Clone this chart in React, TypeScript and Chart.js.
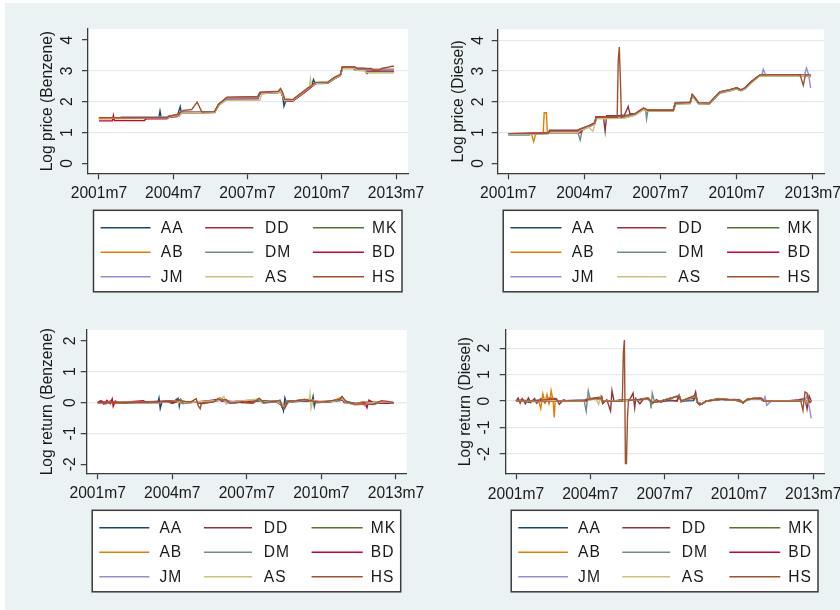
import React, { useEffect, useRef } from 'react';
import { Chart, registerables } from 'chart.js';

Chart.register(...registerables);

type Pt = [number, number];

// ---------- labels, colours, ticks ----------
const SERIES_NAMES = ['AA', 'DD', 'MK', 'AB', 'DM', 'BD', 'JM', 'AS', 'HS'];
const SERIES_COLORS = ['#1A476F', '#90353B', '#55752F', '#E37E00', '#6E8E84', '#C10534', '#938DD2', '#CAC27E', '#A0522D'];
const X_TICK_MONTHS = [0, 36, 72, 108, 144]; // months since 2001m7
const X_TICK_LABELS = ['2001m7', '2004m7', '2007m7', '2010m7', '2013m7'];
const PRICE_Y_TICKS = [0, 1, 2, 3, 4];
const RETURN_Y_TICKS = [-2, -1, 0, 1, 2];

// ---------- Log price (Benzene): [month since 2001m7, value] ----------
const BENZ_PRICE_AA: Pt[] = [[0,1.47],[29,1.47],[29.6,1.7],[30.2,1.48],[33,1.5],[38,1.55],[39.4,1.84],[40,1.62],[41,1.66],[56,1.67],[58,1.9],[62,2.1],[70,2.12],[77,2.14],[78,2.28],[87,2.32],[88,2.38],[89,2.2],[89.7,1.86],[90.5,2.02],[94,2.05],[100,2.35],[103,2.5],[104,2.72],[104.8,2.6],[111,2.62],[114,2.75],[117,2.86],[118,3.1],[123,3.1],[124,3.04],[129,3.04],[130,2.98],[143,2.98]];
const BENZ_PRICE_DD: Pt[] = [[0,1.48],[22,1.48],[23,1.47],[33,1.47],[34,1.52],[38,1.56],[40,1.65],[56,1.66],[58,1.92],[62,2.13],[77,2.15],[78,2.3],[87,2.33],[88,2.42],[89,2.28],[90,2.08],[94,2.07],[100,2.38],[103,2.52],[105,2.62],[111,2.63],[114,2.78],[117,2.88],[118,3.14],[124,3.13],[125,3.05],[143,3.05]];
const BENZ_PRICE_MK: Pt[] = [[0,1.46],[33,1.47],[34,1.52],[38,1.55],[40,1.65],[56,1.66],[58,1.9],[62,2.1],[77,2.12],[78,2.28],[87,2.31],[88,2.38],[89,2.22],[90,2.04],[94,2.04],[100,2.34],[103,2.5],[105,2.6],[111,2.61],[114,2.74],[117,2.85],[118,3.1],[124,3.1],[125,3.02],[129,3.02],[129.5,2.95],[143,2.95]];
const BENZ_PRICE_AB: Pt[] = [[0,1.45],[33,1.46],[34,1.52],[38,1.6],[39,1.62],[40,1.66],[56,1.67],[58,1.9],[62,2.1],[66,2.14],[77,2.13],[78,2.28],[87,2.32],[88,2.4],[89,2.25],[90,2.05],[94,2.05],[100,2.36],[103,2.52],[105,2.6],[111,2.62],[114,2.76],[117,2.87],[118,3.12],[124,3.12],[125,3.05],[143,3.05]];
const BENZ_PRICE_DM: Pt[] = [[0,1.46],[33,1.47],[34,1.5],[38,1.54],[40,1.65],[56,1.66],[58,1.88],[62,2.1],[77,2.11],[78,2.27],[87,2.3],[88,2.36],[89,2.2],[90,2.03],[94,2.04],[100,2.33],[103,2.48],[105,2.58],[111,2.6],[114,2.73],[117,2.84],[118,3.08],[124,3.08],[125,3.03],[143,3.03]];
const BENZ_PRICE_BD: Pt[] = [[0,1.38],[6.5,1.38],[7,1.55],[7.5,1.39],[22,1.39],[23,1.45],[33,1.45],[34,1.5],[38,1.52],[40,1.64],[56,1.65],[58,1.88],[62,2.09],[77,2.1],[78,2.26],[87,2.3],[88,2.36],[89,2.18],[90,2.02],[94,2.02],[100,2.32],[103,2.48],[105,2.6],[111,2.62],[114,2.76],[117,2.86],[118,3.1],[129,3.08],[130,2.92],[131,3.0],[143,3.0]];
const BENZ_PRICE_JM: Pt[] = [[0,1.47],[10,1.48],[11,1.51],[33,1.51],[34,1.55],[38,1.57],[40,1.66],[56,1.67],[58,1.9],[62,2.11],[77,2.13],[78,2.29],[87,2.33],[88,2.39],[89,2.23],[90,2.04],[94,2.05],[100,2.36],[101,2.45],[103,2.5],[105,2.6],[111,2.62],[114,2.76],[117,2.87],[118,3.1],[123,3.1],[124,3.08],[128,3.08],[129,3.03],[143,3.03]];
const BENZ_PRICE_AS: Pt[] = [[0,1.46],[33,1.47],[34,1.5],[38,1.55],[39,1.52],[40,1.63],[56,1.65],[58,1.88],[62,2.05],[78,2.05],[79,2.27],[87,2.3],[88,2.36],[89,2.2],[90,2.04],[94,2.05],[100,2.36],[102,2.45],[102.5,2.75],[103,2.5],[105,2.6],[111,2.62],[114,2.75],[117,2.86],[118,3.08],[124,3.08],[125,3.02],[129,3.0],[129.5,2.95],[143,2.95]];
const BENZ_PRICE_HS: Pt[] = [[0,1.48],[33,1.48],[34,1.53],[38,1.58],[40,1.68],[41,1.72],[45,1.75],[47.6,1.99],[49.5,1.72],[50,1.67],[56,1.68],[58,1.92],[62,2.15],[77,2.17],[78,2.3],[87,2.34],[88,2.43],[89,2.3],[90,2.08],[94,2.07],[100,2.38],[103,2.52],[105,2.63],[111,2.64],[114,2.78],[117,2.88],[118,3.13],[124,3.13],[125,3.08],[132,3.08],[133,3.02],[136,3.02],[137,3.08],[140,3.12],[142,3.15],[143,3.15]];

// ---------- Log price (Diesel) ----------
const DIES_PRICE_AA: Pt[] = [[0,0.93],[10,0.93],[11,0.96],[19,0.98],[20,1.05],[33,1.05],[34,1.1],[38,1.2],[41,1.32],[41.5,1.5],[55,1.5],[60,1.6],[64,1.78],[66,1.72],[78,1.72],[79,1.95],[86,1.97],[87,2.2],[88,2.14],[90,1.96],[95,1.95],[100,2.3],[105,2.38],[108,2.44],[110,2.37],[112,2.45],[115,2.65],[119,2.86],[143,2.86]];
const DIES_PRICE_DD: Pt[] = [[0,0.97],[10,0.97],[19,0.99],[19.5,1.08],[33,1.08],[34,1.12],[38,1.22],[41,1.33],[41.5,1.52],[45,1.52],[45.8,1.05],[46.5,1.55],[52,1.55],[55,1.58],[56.7,1.85],[57.5,1.62],[60,1.62],[64,1.8],[66,1.72],[78,1.73],[79,1.96],[86,1.98],[87,2.24],[88,2.16],[90,1.97],[95,1.95],[100,2.32],[105,2.4],[108,2.46],[110,2.39],[112,2.46],[115,2.66],[119,2.88],[141,2.88],[142,2.82],[143,2.84]];
const DIES_PRICE_MK: Pt[] = [[0,0.96],[19,0.98],[20,1.04],[33,1.04],[34,1.1],[38,1.2],[41,1.3],[41.5,1.49],[55,1.5],[60,1.58],[64,1.77],[66,1.71],[78,1.71],[79,1.94],[86,1.96],[87,2.2],[88,2.14],[90,1.95],[95,1.94],[100,2.3],[105,2.37],[108,2.44],[110,2.37],[112,2.44],[115,2.64],[119,2.86],[143,2.86]];
const DIES_PRICE_AB: Pt[] = [[0,0.96],[11,0.96],[12,0.71],[13,0.96],[16.5,0.98],[17,1.65],[18,1.65],[18.5,1.0],[20,1.02],[33,1.02],[34,1.1],[38,1.2],[41,1.3],[41.5,1.5],[55,1.5],[60,1.6],[64,1.78],[66,1.72],[78,1.72],[79,1.95],[86,1.97],[87,2.22],[88,2.15],[90,1.96],[95,1.95],[100,2.3],[105,2.38],[108,2.45],[110,2.38],[112,2.45],[115,2.65],[119,2.87],[143,2.87]];
const DIES_PRICE_DM: Pt[] = [[0,0.95],[19,0.97],[20,1.0],[33,1.0],[34,0.76],[35,1.08],[38,1.18],[41,1.3],[41.5,1.48],[55,1.5],[60,1.58],[64,1.76],[65,1.72],[65.4,1.45],[66,1.72],[78,1.71],[79,1.93],[86,1.95],[87,2.18],[88,2.12],[90,1.94],[95,1.93],[100,2.28],[105,2.36],[108,2.42],[110,2.36],[112,2.43],[115,2.63],[119,2.85],[143,2.85]];
const DIES_PRICE_BD: Pt[] = [[0,0.97],[19,0.99],[20,1.0],[34,1.0],[35,1.1],[38,1.2],[41,1.31],[41.5,1.5],[55,1.5],[60,1.6],[64,1.78],[66,1.72],[78,1.72],[79,1.95],[86,1.97],[87,2.21],[88,2.15],[90,1.96],[95,1.95],[100,2.31],[105,2.39],[108,2.45],[110,2.38],[112,2.45],[115,2.66],[119,2.87],[142,2.87],[143,2.82]];
const DIES_PRICE_JM: Pt[] = [[0,0.95],[19,0.97],[20,1.03],[33,1.03],[34,1.1],[38,1.2],[41,1.3],[41.5,1.48],[55,1.5],[60,1.6],[64,1.78],[66,1.72],[78,1.72],[79,1.98],[86,2.0],[87,2.22],[88,2.15],[90,1.97],[95,1.96],[100,2.33],[105,2.4],[108,2.44],[110,2.38],[112,2.45],[115,2.65],[119,2.87],[120,2.9],[120.6,3.06],[121.5,2.9],[123,2.86],[140,2.86],[141,3.1],[142,2.9],[143,2.45]];
const DIES_PRICE_AS: Pt[] = [[0,0.95],[19,0.97],[20,1.0],[33,1.0],[34,1.08],[38,1.18],[40,1.05],[41,1.28],[41.5,1.45],[55,1.47],[60,1.56],[64,1.75],[66,1.7],[78,1.7],[79,1.93],[86,1.95],[87,2.2],[88,2.13],[90,1.95],[95,1.94],[100,2.3],[105,2.37],[108,2.43],[110,2.37],[112,2.44],[115,2.63],[119,2.84],[143,2.84]];
const DIES_PRICE_HS: Pt[] = [[0,0.97],[19,0.99],[20,1.06],[33,1.06],[34,1.12],[38,1.22],[41,1.32],[41.5,1.5],[51.5,1.5],[52,3.35],[52.5,3.78],[53,2.75],[53.5,1.5],[55,1.55],[60,1.62],[64,1.8],[66,1.73],[78,1.73],[79,1.96],[86,1.98],[87,2.24],[88,2.16],[90,1.97],[95,1.96],[100,2.32],[105,2.4],[108,2.46],[110,2.39],[112,2.46],[115,2.66],[119,2.88],[138,2.88],[139.5,2.54],[140.5,2.88],[143,2.88]];

// ---------- Log return (Benzene) ----------
const BENZ_RET_AA: Pt[] = [[0,0],[8,0.02],[12,-0.02],[20,0.01],[29,0],[29.6,0.15],[30.2,-0.19],[31,0.02],[33,0.04],[36,0],[38.8,0.14],[39.4,-0.12],[40,0.1],[41,0],[50,0.02],[58,0.08],[62,0.04],[70,0],[78,0.06],[88,0.04],[89.2,-0.15],[89.7,-0.27],[90.4,0.15],[91,0.02],[100,0.05],[103.5,0.04],[104,0.2],[104.6,-0.12],[105,0],[111,0.02],[118,0.08],[124,-0.03],[130,-0.05],[136,0.02],[143,0]];
const BENZ_RET_DD: Pt[] = [[0,0],[2,0.05],[4,-0.04],[6,0.05],[10,0],[22,0.02],[33,0.05],[36,-0.03],[40,0.08],[42,0],[46,0.04],[50,-0.04],[55,0.02],[58,0.1],[60,0.05],[62,0.08],[64,-0.02],[70,0.02],[74,-0.02],[78,0.12],[80,0],[86,0.05],[88,0.07],[89,-0.1],[90,-0.15],[92,0],[96,0.05],[100,0.06],[103,0.05],[106,0.02],[110,0.03],[114,0.06],[117,0.08],[118,0.15],[120,0],[124,-0.05],[128,0.02],[132,-0.03],[136,0.02],[143,0]];
const BENZ_RET_MK: Pt[] = [[0,0],[14,0.01],[30,0],[34,0.04],[40,0.07],[45,0],[57,0.05],[60,0.12],[62,0],[68,0.03],[75,0],[78,0.1],[80,0],[88,0.05],[89,-0.12],[90,-0.1],[92,0.03],[98,0.04],[102,0.08],[106,0.04],[112,0.02],[116,0.07],[118,0.1],[120,0],[125,-0.06],[129,-0.05],[133,0.02],[138,-0.02],[143,0]];
const BENZ_RET_AB: Pt[] = [[0,0],[5,0.02],[9,-0.02],[18,0.01],[30,0],[34,0.05],[38,0.05],[39,0.02],[40,0.03],[43,-0.02],[48,0.03],[57,0.06],[59,0.16],[61,0.05],[64,-0.03],[67,0.05],[72,-0.02],[78,0.12],[80,0.03],[85,0.02],[88,0.06],[89.5,-0.12],[90.5,-0.18],[92,0.05],[96,0.06],[100,0.08],[104,0.05],[108,0.04],[114,0.06],[118,0.18],[119,0.05],[124,-0.08],[126,0],[132,0.03],[140,-0.02],[143,0]];
const BENZ_RET_DM: Pt[] = [[0,0],[12,0.01],[30,0.01],[34,0.03],[39,0.06],[41,-0.04],[45,0.02],[57,0.05],[61,0.1],[63,-0.02],[70,0.02],[78,0.1],[80,-0.02],[86,0.03],[89,-0.1],[90,-0.2],[91,0.06],[95,0.04],[99,0.08],[103,0.06],[107,0.03],[113,0.05],[117,0.06],[118,0.14],[121,0],[124,-0.04],[130,-0.04],[134,0.01],[143,0]];
const BENZ_RET_BD: Pt[] = [[0,0],[1.5,0.06],[3,-0.05],[4.5,0.07],[6,-0.04],[7,0.12],[7.5,-0.12],[8.5,0.05],[10,0],[22,0.06],[24,0],[33,0.04],[35,0.05],[38,0.02],[40,0.1],[42,0],[49,0.02],[58,0.1],[60,0.06],[62,0.05],[70,0],[78,0.1],[80,0],[88,0.05],[89,-0.15],[90,-0.1],[92,0.03],[100,0.1],[102,0.05],[104,0.08],[106,0],[110,0.02],[114,0.07],[118,0.12],[119,0],[126,-0.03],[129,-0.02],[130,-0.17],[131,0.08],[133,0],[140,-0.02],[143,0]];
const BENZ_RET_JM: Pt[] = [[0,0],[10,0.01],[11,0.03],[12,0],[30,0],[34,0.03],[40,0.07],[42,0],[57,0.05],[60,0.09],[62,0.02],[78,0.1],[80,0],[88,0.04],[89.5,-0.1],[90.5,-0.15],[92,0.02],[100,0.07],[101,0.1],[103,0.05],[106,0.02],[112,0.03],[116,0.07],[118,0.12],[120,0],[124,-0.03],[128,-0.05],[129,-0.1],[130,0.02],[134,-0.06],[136,0.02],[143,0]];
const BENZ_RET_AS: Pt[] = [[0,0],[15,0.01],[30,0],[34,0.03],[38,0.05],[39,-0.03],[40,0.1],[42,0],[57,0.06],[59,0.1],[61,0.2],[62,-0.05],[64,0],[78,0.12],[79,0.02],[88,0.05],[89,-0.1],[90,-0.14],[92,0.02],[98,0.08],[101,0.1],[102,0.06],[102.5,0.29],[103,-0.2],[104,0.08],[106,0.02],[114,0.05],[118,0.13],[120,0],[124,-0.06],[129,-0.06],[134,0.02],[140,0.04],[143,0]];
const BENZ_RET_HS: Pt[] = [[0,0],[6,0.01],[15,0],[30,0.02],[34,0.04],[38,0.05],[40,0.08],[41,0.04],[45,0.02],[47,0.1],[47.6,0.12],[48.5,-0.1],[49.5,-0.2],[50,-0.05],[51,0],[56,0.02],[58,0.12],[60,0.08],[62,0.1],[64,-0.02],[70,0.03],[75,-0.02],[78,0.14],[80,0],[87,0.05],[88,0.08],[89,-0.13],[90,-0.18],[92,0.04],[96,0.06],[100,0.1],[103,0.06],[106,0.02],[110,0.03],[114,0.07],[117,0.1],[118,0.2],[120,0.02],[124,-0.05],[130,-0.05],[133,-0.06],[137,0.06],[140,0.04],[143,0]];

// ---------- Log return (Diesel) ----------
const DIES_RET_AA: Pt[] = [[0,0],[3,0.05],[6,-0.04],[10,0.03],[19.5,0.07],[20,0],[30,0.02],[34,0.05],[38,0.1],[41,0.12],[41.5,0.13],[42,0],[55,0.03],[60,0.06],[64,0.08],[66,-0.05],[70,0],[78,0.02],[79,0.2],[80,0],[86,0.02],[87,0.2],[88,-0.06],[90,-0.12],[92,0],[96,0.05],[100,0.08],[104,0.03],[108,0.06],[110,-0.07],[112,0.06],[115,0.08],[118,0.1],[120,0],[143,0]];
const DIES_RET_DD: Pt[] = [[0,0],[1,0.12],[2,-0.08],[3,0.1],[4.5,-0.1],[6,0.12],[7,-0.05],[9,0.1],[10,-0.08],[12,0.1],[14,-0.06],[16,0.12],[19.5,0.09],[21,-0.12],[23,0.05],[25,0],[33,0.03],[34,0.05],[37,0.1],[41,0.15],[42,-0.1],[44,0.05],[45.8,-0.37],[46.5,0.39],[47.5,0],[50,0.04],[55,0.05],[56.7,0.3],[57.5,-0.25],[58,0.1],[60,-0.1],[62,0.1],[64,0.12],[66,-0.1],[68,0.06],[70,-0.04],[74,0.05],[78,0],[79,0.22],[80,-0.03],[83,0.08],[86,0.1],[87,0.35],[88,-0.08],[89,-0.15],[90,-0.1],[92,0],[96,0.04],[100,0.08],[102,0.04],[105,0.06],[108,0.05],[110,-0.07],[112,0.06],[115,0.1],[119,0.1],[120,0],[130,0],[137,0.05],[140,0.1],[141,-0.3],[142,0.2],[143,0]];
const DIES_RET_MK: Pt[] = [[0,0],[5,0.02],[10,0],[19.5,0.06],[20,0],[33,0.02],[35,0.06],[38,0.1],[41,0.1],[41.5,0.14],[42,0],[55,0.03],[60,0.05],[64,0.1],[66,-0.06],[70,0],[79,0.2],[80,0],[87,0.2],[88,-0.06],[90,-0.1],[92,0],[98,0.1],[102,0.05],[106,0.04],[110,-0.06],[112,0.06],[115,0.08],[118,0.1],[120,0],[143,0]];
const DIES_RET_AB: Pt[] = [[0,0],[4,0.03],[8,-0.02],[11,0],[12,-0.28],[13,0.28],[14,-0.05],[15,0.25],[16,-0.1],[16.5,0.02],[17,0.4],[18,0.02],[18.5,-0.62],[19,0.02],[20,0],[34,0.05],[38,0.08],[41,0.1],[41.5,0.14],[42,0],[55,0.03],[60,0.05],[64,0.1],[66,-0.06],[70,0],[79,0.2],[80,0],[87,0.22],[88,-0.07],[90,-0.12],[92,0],[100,0.08],[104,0.04],[108,0.05],[110,-0.07],[112,0.06],[115,0.1],[119,0.1],[120,0],[143,0]];
const DIES_RET_DM: Pt[] = [[0,0],[6,0.02],[10,-0.03],[19.5,0.03],[20,0],[33,0.02],[34,-0.38],[35,0.39],[36,0.05],[38,0.1],[41,0.1],[41.5,0.12],[42,0],[55,0.03],[60,0.05],[64,0.1],[65,-0.02],[65.4,-0.28],[66,0.3],[67,0],[70,0],[79,0.2],[80,0],[87,0.18],[88,-0.05],[90,-0.1],[92,0],[100,0.06],[104,0.04],[108,0.05],[110,-0.06],[112,0.05],[115,0.08],[119,0.09],[120,0],[143,0]];
const DIES_RET_BD: Pt[] = [[0,0],[7,0.02],[19.5,0.01],[20,0],[34,0],[35,0.1],[38,0.1],[41,0.1],[41.5,0.13],[42,0],[55,0.03],[60,0.06],[64,0.1],[66,-0.06],[70,0],[79,0.2],[80,0],[87,0.2],[88,-0.06],[90,-0.11],[92,0],[100,0.08],[104,0.05],[108,0.05],[110,-0.06],[112,0.06],[115,0.1],[119,0.1],[120,0],[142,0],[143,-0.05]];
const DIES_RET_JM: Pt[] = [[0,0],[8,0.02],[19.5,0.05],[20,0],[34,0.06],[38,0.1],[41,0.1],[41.5,0.12],[42,0],[55,0.03],[60,0.06],[64,0.1],[66,-0.06],[70,0],[79,0.22],[80,0],[87,0.18],[88,-0.07],[90,-0.11],[92,0],[100,0.09],[104,0.04],[106,0.06],[108,0.04],[110,-0.06],[112,0.06],[115,0.09],[119,0.1],[120,0.03],[120.6,0.16],[121.5,-0.16],[123,-0.04],[124,0],[140,0],[141,0.22],[142,-0.2],[142.5,-0.42],[143,-0.65]];
const DIES_RET_AS: Pt[] = [[0,0],[10,0.01],[19.5,0.03],[20,0],[33,0],[34,0.08],[38,0.1],[39,0.05],[40,-0.13],[41,0.2],[41.5,0.12],[42,0],[55,0.03],[60,0.05],[64,0.1],[66,-0.06],[70,0],[79,0.2],[80,0],[87,0.2],[88,-0.07],[90,-0.1],[92,0],[100,0.08],[104,0.04],[108,0.05],[110,-0.06],[112,0.06],[115,0.08],[119,0.1],[120,0],[143,0]];
const DIES_RET_HS: Pt[] = [[0,0],[9,0.02],[19.5,0.08],[20,0],[33,0.02],[34,0.06],[38,0.1],[41,0.1],[41.5,0.18],[42,0],[51.5,0],[52,1.85],[52.5,2.31],[53,-2.36],[53.5,-2.36],[54,-0.6],[54.5,0.05],[55,0.03],[58,0.05],[60,0.06],[64,0.1],[66,-0.06],[70,0],[79,0.2],[80,0],[87,0.22],[88,-0.08],[90,-0.12],[92,0],[100,0.08],[104,0.04],[108,0.05],[110,-0.06],[112,0.06],[115,0.1],[119,0.1],[120,0],[138,0],[139,-0.35],[140,0.35],[141,0.3],[142,-0.05],[143,0]];

const BENZ_PRICE = [BENZ_PRICE_AA, BENZ_PRICE_DD, BENZ_PRICE_MK, BENZ_PRICE_AB, BENZ_PRICE_DM, BENZ_PRICE_BD, BENZ_PRICE_JM, BENZ_PRICE_AS, BENZ_PRICE_HS];
const DIES_PRICE = [DIES_PRICE_AA, DIES_PRICE_DD, DIES_PRICE_MK, DIES_PRICE_AB, DIES_PRICE_DM, DIES_PRICE_BD, DIES_PRICE_JM, DIES_PRICE_AS, DIES_PRICE_HS];
const BENZ_RET = [BENZ_RET_AA, BENZ_RET_DD, BENZ_RET_MK, BENZ_RET_AB, BENZ_RET_DM, BENZ_RET_BD, BENZ_RET_JM, BENZ_RET_AS, BENZ_RET_HS];
const DIES_RET = [DIES_RET_AA, DIES_RET_DD, DIES_RET_MK, DIES_RET_AB, DIES_RET_DM, DIES_RET_BD, DIES_RET_JM, DIES_RET_AS, DIES_RET_HS];

// ---------- styling / layout ----------
const FONT_FAMILY = '"Liberation Sans", Arial, sans-serif';
const FONT_SIZE = 15.6;
const TEXT_COLOR = '#1a1a1a';
const AXIS_COLOR = '#3a3a3a';
const GRID_COLOR = '#E2ECEE';
const BG_COLOR = '#EAF2F3';

const CANVAS_W = 460;

const PANELS = [
  { key: 'p1', left: 0, top: 0, h: 300, area: { l: 88, r: 408, t: 29, b: 173.3 }, xMin: -5.3, xMax: 149.8, yMin: -0.32, yMax: 4.36, yTicks: PRICE_Y_TICKS, grid: [1, 2, 3], title: 'Log price (Benzene)', titlePad: 38.2, yTickPad: 9.7, xTickPad: 4.7, series: BENZ_PRICE },
  { key: 'p2', left: 420, top: 0, h: 300, area: { l: 77.7, r: 404, t: 29.3, b: 173.3 }, xMin: -5, xMax: 149.3, yMin: -0.32, yMax: 4.36, yTicks: PRICE_Y_TICKS, grid: [1, 2, 3, 4], title: 'Log price (Diesel)', titlePad: 29.7, yTickPad: 9.1, xTickPad: 5.2, series: DIES_PRICE },
  { key: 'p3', left: 0, top: 300, h: 310, area: { l: 86.7, r: 406.7, t: 30, b: 173.3 }, xMin: -5.3, xMax: 149.2, yMin: -2.29, yMax: 2.35, yTicks: RETURN_Y_TICKS, grid: [-1, 0, 1], title: 'Log return (Benzene)', titlePad: 38.2, yTickPad: 3.3, xTickPad: 4.7, series: BENZ_RET },
  { key: 'p4', left: 420, top: 300, h: 310, area: { l: 85.7, r: 404, t: 30, b: 173.3 }, xMin: -5, xMax: 149.2, yMin: -2.73, yMax: 2.69, yTicks: RETURN_Y_TICKS, grid: [-2, -1, 0, 1, 2], title: 'Log return (Diesel)', titlePad: 36.2, yTickPad: 7.8, xTickPad: 5.6, series: DIES_RET },
];

const plotBg = {
  id: 'plotBg',
  beforeDraw(chart: any) {
    const { ctx, chartArea: ca } = chart;
    ctx.save();
    ctx.fillStyle = '#ffffff';
    ctx.fillRect(ca.left, ca.top, ca.right - ca.left, ca.bottom - ca.top);
    ctx.restore();
  },
};

const LEGEND_COLS = [
  [0.023, 0.185, 0.218],
  [0.362, 0.518, 0.556],
  [0.711, 0.877, 0.903],
];

const stataLegend = {
  id: 'stataLegend',
  afterDraw(chart: any) {
    const { ctx, chartArea: ca } = chart;
    const x0 = ca.left + 5.5;
    const x1 = ca.right - 6;
    const y0 = ca.bottom + 37;
    const h = 81.5;
    const w = x1 - x0;
    ctx.save();
    ctx.fillStyle = '#ffffff';
    ctx.fillRect(x0, y0, w, h);
    ctx.strokeStyle = AXIS_COLOR;
    ctx.lineWidth = 1.5;
    ctx.strokeRect(x0, y0, w, h);
    ctx.font = `${FONT_SIZE}px ${FONT_FAMILY}`;
    ctx.textBaseline = 'middle';
    ctx.textAlign = 'left';
    try { (ctx as any).letterSpacing = '1px'; } catch (e) { /* ignore */ }
    chart.data.datasets.forEach((ds: any, i: number) => {
      const r = Math.floor(i / 3);
      const c = i % 3;
      const y = y0 + 17.5 + r * 24.5;
      ctx.strokeStyle = ds.borderColor;
      ctx.lineWidth = 1.5;
      ctx.beginPath();
      ctx.moveTo(x0 + LEGEND_COLS[c][0] * w, y);
      ctx.lineTo(x0 + LEGEND_COLS[c][1] * w, y);
      ctx.stroke();
      ctx.fillStyle = TEXT_COLOR;
      ctx.fillText(ds.label, x0 + LEGEND_COLS[c][2] * w, y + 0.5);
    });
    ctx.restore();
  },
};

function Panel({ p }: { p: any }) {
  const ref = useRef<HTMLCanvasElement | null>(null);
  useEffect(() => {
    const canvas = ref.current;
    if (!canvas) return;
    const font = { family: FONT_FAMILY, size: FONT_SIZE };
    const chart = new Chart(canvas, {
      type: 'line',
      data: {
        datasets: p.series.map((pts: Pt[], i: number) => ({
          label: SERIES_NAMES[i],
          data: pts.map(([x, y]) => ({ x, y })),
          borderColor: SERIES_COLORS[i],
          backgroundColor: SERIES_COLORS[i],
          borderWidth: 1.4,
          pointRadius: 0,
          tension: 0,
          fill: false,
          order: 9 - i,
        })),
      },
      options: {
        responsive: false,
        animation: false,
        events: [],
        layout: { padding: { left: 0, top: p.area.t, right: CANVAS_W - p.area.r, bottom: 0 } },
        plugins: { legend: { display: false }, tooltip: { enabled: false } },
        scales: {
          x: {
            type: 'linear',
            min: p.xMin,
            max: p.xMax,
            afterBuildTicks: (s: any) => { s.ticks = X_TICK_MONTHS.map((v) => ({ value: v })); },
            afterFit: (s: any) => { s.height = p.h - p.area.b; },
            ticks: {
              autoSkip: false,
              maxRotation: 0,
              minRotation: 0,
              padding: p.xTickPad,
              color: TEXT_COLOR,
              font,
              callback: (v: any) => {
                const i = X_TICK_MONTHS.indexOf(Number(v));
                return i >= 0 ? X_TICK_LABELS[i] : '';
              },
            },
            grid: { drawOnChartArea: false, drawTicks: true, tickLength: 6, tickWidth: 1.2, tickColor: AXIS_COLOR },
            border: { display: true, color: AXIS_COLOR, width: 1.3 },
          },
          y: {
            type: 'linear',
            min: p.yMin,
            max: p.yMax,
            afterBuildTicks: (s: any) => { s.ticks = p.yTicks.map((v: number) => ({ value: v })); },
            afterFit: (s: any) => { s.width = p.area.l; },
            ticks: {
              autoSkip: false,
              minRotation: 90,
              maxRotation: 90,
              crossAlign: 'center',
              padding: p.yTickPad,
              color: TEXT_COLOR,
              font,
              callback: (v: any) => String(v),
            },
            grid: {
              color: (c: any) => (c.tick && p.grid.includes(c.tick.value) ? GRID_COLOR : 'rgba(0,0,0,0)'),
              lineWidth: 1.3,
              drawTicks: true,
              tickLength: 6,
              tickWidth: 1.2,
              tickColor: AXIS_COLOR,
            },
            border: { display: true, color: AXIS_COLOR, width: 1.3 },
            title: {
              display: true,
              text: p.title,
              color: TEXT_COLOR,
              font,
              padding: { top: p.titlePad, bottom: 0 },
            },
          },
        },
      },
      plugins: [plotBg, stataLegend],
    } as any);
    return () => chart.destroy();
  }, [p]);
  return (
    <canvas
      ref={ref}
      width={CANVAS_W}
      height={p.h}
      style={{ position: 'absolute', left: p.left, top: p.top, width: CANVAS_W, height: p.h }}
    />
  );
}

export default function App() {
  return (
    <div style={{ position: 'fixed', left: 0, top: 0, width: 840, height: 610, overflow: 'hidden', background: '#ffffff' }}>
      <div style={{ position: 'absolute', left: 5, top: 3, right: 0, bottom: 0, background: BG_COLOR }} />
      {PANELS.map((p) => (
        <Panel key={p.key} p={p} />
      ))}
    </div>
  );
}
